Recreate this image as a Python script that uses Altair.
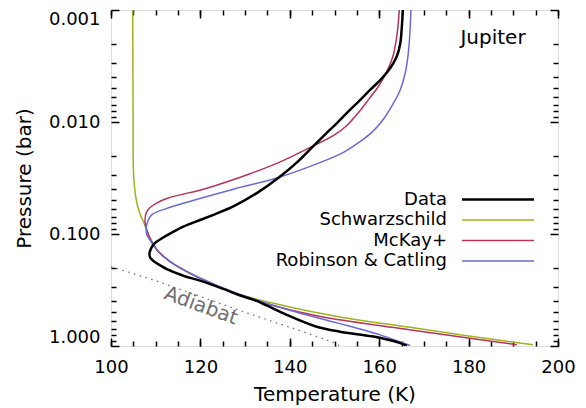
import altair as alt
import pandas as pd

FONT = "DejaVu Sans"

# ---------------- data ----------------
series_names = ["Data", "Schwarzschild", "McKay+", "Robinson & Catling"]
series_colors = ["#000000", "#a0b21c", "#b5345a", "#6a6ad8"]
series_widths = [2.5, 1.5, 1.5, 1.5]

data_T = [165.3, 165.0, 164.7, 163.9, 162.4, 160.4, 157.9, 155.5, 153.0, 150.6,
          148.1, 145.6, 141.6, 137.4, 132.7, 127.7, 122.8, 119.9, 116.3, 113.7,
          111.4, 109.8, 109.0, 108.6, 108.8, 109.5, 111.0, 112.5, 116.2, 119.9,
          125.1, 128.9, 132.6, 134.8, 140.0, 146.0, 151.2, 158.7, 164.7, 166.2]
data_P = [0.001, 0.00153, 0.0020, 0.00262, 0.00333, 0.00416, 0.0052, 0.0065, 0.00812, 0.01016,
          0.0127, 0.01589, 0.0229, 0.0316, 0.0429, 0.0559, 0.0678, 0.075, 0.0855, 0.0966,
          0.1091, 0.1208, 0.1337, 0.151, 0.1637, 0.174, 0.1905, 0.206, 0.236, 0.261,
          0.309, 0.354, 0.396, 0.434, 0.542, 0.673, 0.745, 0.824, 0.942, 0.994]

schw_T = [104.85, 104.9, 104.95, 105.0, 105.2, 105.6, 106.3, 107.5, 108.7, 110.5,
          113.0, 116.0, 119.7, 128.4, 140.0, 151.2, 166.9, 179.6, 194.4]
schw_P = [0.001, 0.003, 0.01, 0.026, 0.0357, 0.0484, 0.0631, 0.0822, 0.1084, 0.1419,
          0.1738, 0.206, 0.244, 0.342, 0.449, 0.550, 0.681, 0.81, 0.976]

mckay_T = [164.5, 164.0, 163.1, 161.7, 160.0, 157.7, 155.3, 152.7, 150.1, 145.3,
           138.5, 131.1, 123.6, 119.9, 112.5, 109.5, 108.0, 107.6, 108.0, 108.7,
           110.5, 113.0, 115.9, 119.4, 128.0, 137.5, 147.4, 162.9, 176.3, 190.8]
mckay_P = [0.001, 0.00164, 0.00256, 0.00354, 0.0047, 0.00625, 0.0083, 0.0108, 0.01296, 0.0163,
           0.0221, 0.0290, 0.0367, 0.0406, 0.0482, 0.0551, 0.0631, 0.0773, 0.0915, 0.1084,
           0.1419, 0.1738, 0.206, 0.244, 0.342, 0.449, 0.550, 0.681, 0.81, 0.976]

rc_T = [167.1, 166.9, 166.5, 165.8, 164.7, 163.2, 160.9, 158.3, 155.7, 152.0,
        146.0, 137.1, 127.4, 119.9, 112.5, 109.1, 108.0, 108.0, 108.9, 110.5,
        113.0, 116.0, 119.6, 128.4, 140.0, 150.8, 160.2, 164.7, 166.9]
rc_P = [0.001, 0.00153, 0.00245, 0.00369, 0.00517, 0.00678, 0.0095, 0.01244, 0.01494, 0.01866,
        0.02366, 0.03162, 0.0398, 0.0482, 0.0590, 0.0675, 0.0826, 0.101, 0.116, 0.1419,
        0.1738, 0.206, 0.244, 0.342, 0.480, 0.625, 0.796, 0.918, 0.99]

adiabat_T = [100.0, 110.0, 120.0, 130.0, 140.0, 150.0, 151.0]
adiabat_P = [0.196, 0.262, 0.362, 0.50, 0.68, 0.94, 0.99]

x_major = [100, 120, 140, 160, 180, 200]
x_minor = list(range(100, 201, 5))
y_major = [0.001, 0.01, 0.1, 1.0]
y_minor = [m * d for d in (0.001, 0.01, 0.1) for m in range(2, 10)]


def frame(T, P):
    return pd.DataFrame({"T": T, "P": P, "i": list(range(len(T)))})


xscale = alt.Scale(domain=[100, 200], nice=False, zero=False)
yscale = alt.Scale(type="log", domain=[0.001, 1.0], reverse=True, nice=False)

x_label_axis = alt.Axis(orient="bottom", values=x_major, format="d", ticks=False, domain=False,
                        grid=False, labelFlush=False, labelPadding=12, labelFontSize=18,
                        labelFont=FONT, labelColor="black", title="Temperature (K)",
                        titleFont=FONT, titleFontSize=20, titleFontWeight="normal",
                        titleColor="black", titlePadding=8)
y_label_axis = alt.Axis(orient="left", values=y_major, format=".3f", ticks=False, domain=False,
                        grid=False, labelFlush=True, labelPadding=11, labelFontSize=18,
                        labelFont=FONT, labelColor="black", title="Pressure (bar)",
                        titleFont=FONT, titleFontSize=20, titleFontWeight="normal",
                        titleColor="black", titlePadding=14)


def tick_axis(orient, values, size):
    return alt.Axis(orient=orient, values=values, labels=False, domain=False, grid=False,
                    ticks=True, tickSize=size, offset=-size, tickColor="black",
                    tickWidth=1.5, title=None)


def line_layer(df, color, width, xaxis, yaxis, dash=None):
    kw = dict(color=color, strokeWidth=width, interpolate="catmull-rom", clip=True)
    if dash is not None:
        kw["strokeDash"] = dash
    return alt.Chart(df).mark_line(**kw).encode(
        x=alt.X("T:Q", scale=xscale, axis=xaxis),
        y=alt.Y("P:Q", scale=yscale, axis=yaxis),
        order=alt.Order("i:Q"),
    )


layers = [
    line_layer(frame(schw_T, schw_P), series_colors[1], series_widths[1], x_label_axis, y_label_axis),
    line_layer(frame(mckay_T, mckay_P), series_colors[2], series_widths[2],
               tick_axis("bottom", x_major, 8), tick_axis("left", y_major, 8)),
    line_layer(frame(rc_T, rc_P), series_colors[3], series_widths[3],
               tick_axis("bottom", x_minor, 5), tick_axis("left", y_minor, 5)),
    line_layer(frame(data_T, data_P), series_colors[0], series_widths[0],
               tick_axis("top", x_major, 8), tick_axis("right", y_major, 8)),
    line_layer(frame(adiabat_T, adiabat_P), "#707070", 1.3,
               tick_axis("top", x_minor, 5), tick_axis("right", y_minor, 5), dash=[1.5, 4.5]),
]

one = pd.DataFrame({"k": [0]})

# annotations
layers.append(alt.Chart(one).mark_text(text="Adiabat", angle=20, fontSize=20, font=FONT,
                                       color="#6e6e6e", align="center", baseline="middle")
              .encode(x=alt.value(90), y=alt.value(296)))
layers.append(alt.Chart(one).mark_text(text="Jupiter", fontSize=20, font=FONT, color="black",
                                       align="center", baseline="middle")
              .encode(x=alt.value(382), y=alt.value(28)))

# legend (labels left of the line samples)
for i, name in enumerate(series_names):
    yrow = 189.5 + 20.5 * i
    layers.append(alt.Chart(one).mark_text(text=name, fontSize=18, font=FONT, color="black",
                                           align="right", baseline="middle")
                  .encode(x=alt.value(336), y=alt.value(yrow)))
    layers.append(alt.Chart(one).mark_rule(color=series_colors[i], strokeWidth=series_widths[i])
                  .encode(x=alt.value(351), x2=alt.value(423), y=alt.value(yrow)))

chart = (
    alt.layer(*layers)
    .resolve_axis(x="independent", y="independent")
    .properties(width=447, height=336,
                autosize=alt.AutoSizeParams(type="none"),
                padding={"left": 103, "top": 2, "right": 20, "bottom": 62})
    .configure_view(stroke="black", strokeWidth=2)
    .configure(font=FONT)
)

chart.save("out.html", embed_options={"renderer": "svg", "actions": False})
